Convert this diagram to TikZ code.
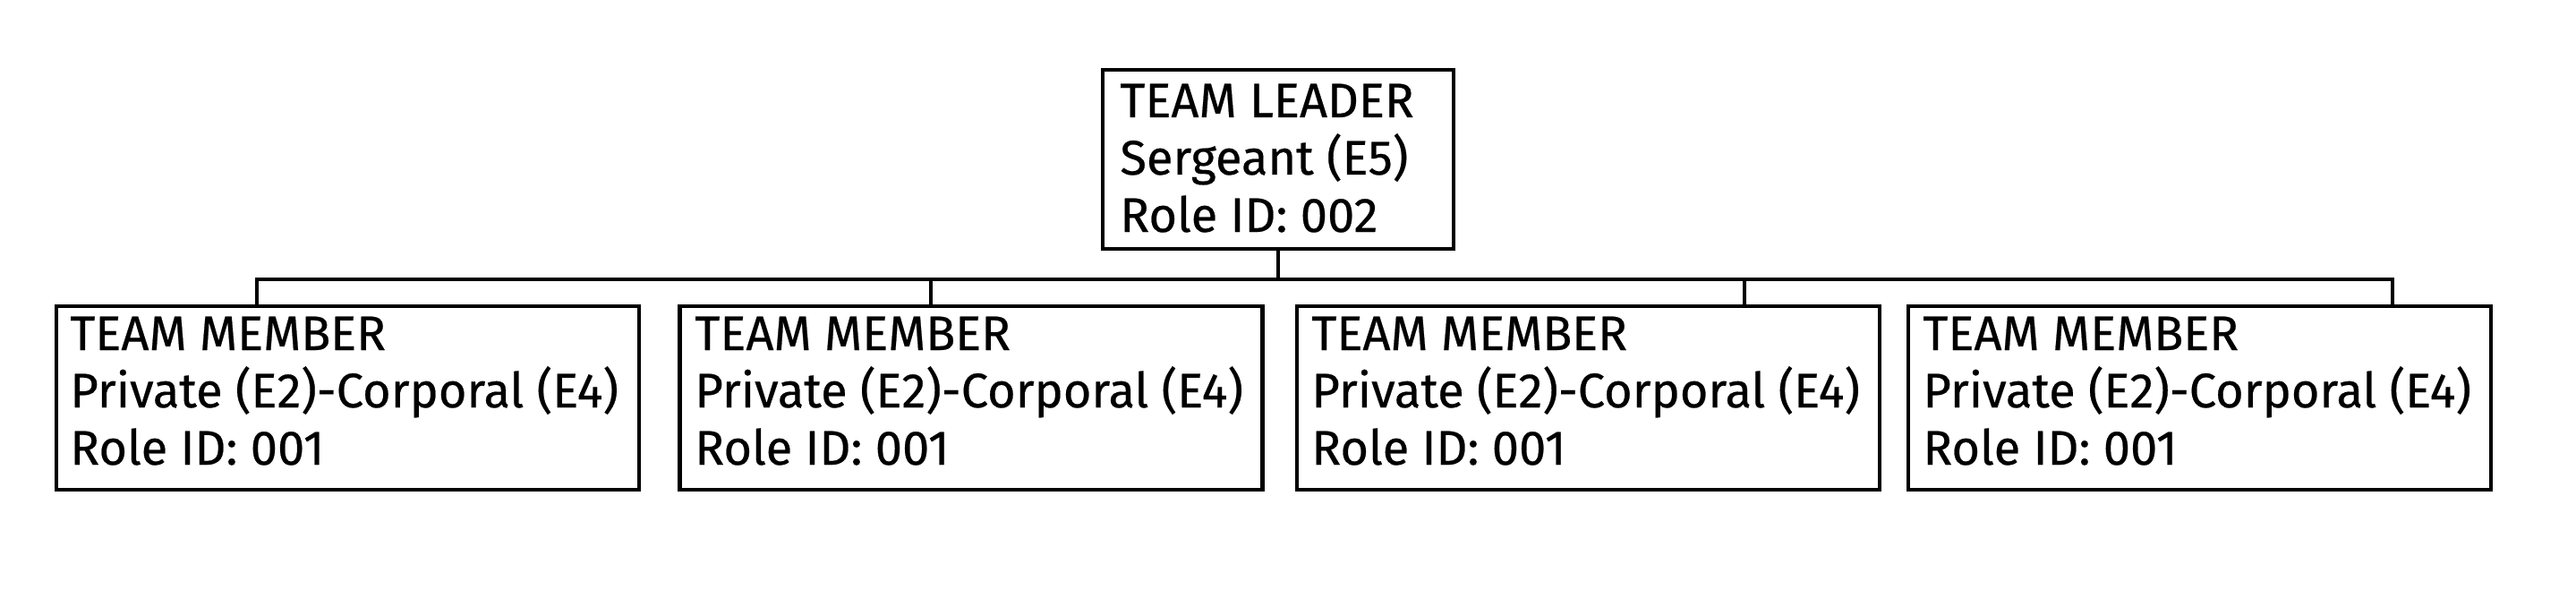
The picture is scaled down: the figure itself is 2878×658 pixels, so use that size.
\documentclass[tikz,border=0pt]{standalone}
\usepackage{fontspec}
\setmainfont{Fira Sans}[FakeBold=0.4]
\newcommand\threelines[3]{\vtop{\hbox{#1}\hbox{#2}\hbox{#3}}}
\tikzset{
  orgbox/.style={draw=black, line width=2.2pt, rectangle, inner sep=0pt, fill=none},
  leadbox/.style={orgbox, minimum width=196pt, minimum height=100pt},
  memberbox/.style={orgbox, minimum width=325.5pt, minimum height=102.5pt},
  boxtext/.style={anchor=base west, inner sep=0pt, font=\fontsize{27.1pt}{32pt}\selectfont},
  link/.style={draw=black, line width=2.2pt, line join=miter}
}
\begin{document}
\begin{tikzpicture}[x=0.5pt, y=-0.5pt]
\useasboundingbox[fill=white] (0,0) rectangle (2878,658);
% boxes
\node[leadbox]   (lead) at (1428,178) {};
\node[memberbox] (m1) at (388.5,444.5) {};
\node[memberbox] (m2) at (1085,444.5) {};
\node[memberbox] (m3) at (1774.5,444.5) {};
\node[memberbox] (m4) at (2457.5,444.5) {};
% texts
\node[boxtext] (tl) at (1251,131) {\threelines{TEAM LEADER}{Sergeant (E5)}{Role ID: 002}};
\node[boxtext] (t1) at (78,391) {\threelines{TEAM MEMBER}{Private (E2)-Corporal (E4)}{Role ID: 001}};
\node[boxtext] (t2) at (776,391) {\threelines{TEAM MEMBER}{Private (E2)-Corporal (E4)}{Role ID: 001}};
\node[boxtext] (t3) at (1465,391) {\threelines{TEAM MEMBER}{Private (E2)-Corporal (E4)}{Role ID: 001}};
\node[boxtext] (t4) at (2148,391) {\threelines{TEAM MEMBER}{Private (E2)-Corporal (E4)}{Role ID: 001}};
% bus coordinates
\coordinate (b1) at (287,312);
\coordinate (b2) at (1040,312);
\coordinate (b3) at (1949,312);
\coordinate (b4) at (2673,312);
% connectors
\draw[link] (b1 |- m1.north) -- (b1) -- (b4) -- (b4 |- m4.north);
\draw[link] (lead.south) -- (lead.south |- b1);
\draw[link] (b2) -- (b2 |- m2.north);
\draw[link] (b3) -- (b3 |- m3.north);
\end{tikzpicture}
\end{document}
